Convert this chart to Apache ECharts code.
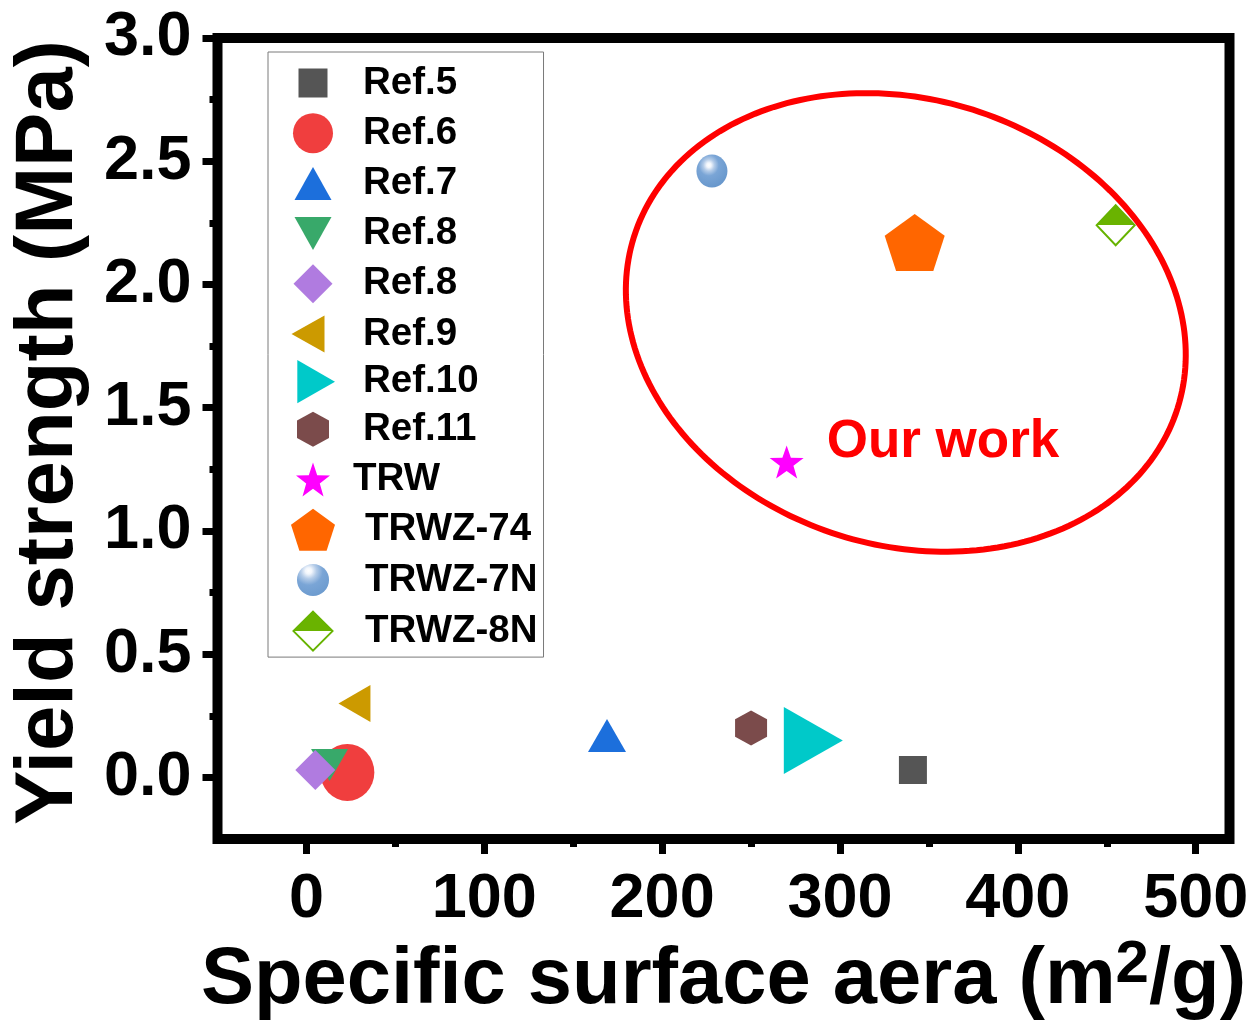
<!DOCTYPE html>
<html>
<head>
<meta charset="utf-8">
<script src="https://cdn.jsdelivr.net/npm/echarts@6/dist/echarts.min.js"></script>
<style>
  html, body { margin: 0; padding: 0; background: #ffffff; }
  #chart { width: 1255px; height: 1024px; }
</style>
</head>
<body>
<div id="chart"></div>
<script>
const FONT = '"Liberation Sans", Arial, Helvetica, sans-serif';

// Specific surface area (m2/g) and yield strength (MPa) of each material
const seriesNames   = ['Ref.5', 'Ref.6', 'Ref.7', 'Ref.8', 'Ref.8 ', 'Ref.9', 'Ref.10', 'Ref.11', 'TRW', 'TRWZ-74', 'TRWZ-7N', 'TRWZ-8N'];
const surfaceArea   = [341, 23, 169, 13, 5, 27, 285, 250, 270, 342, 228, 455];
const yieldStrength = [0.03, 0.02, 0.17, 0.05, 0.03, 0.30, 0.15, 0.20, 1.28, 2.17, 2.46, 2.24];

// axis ticks
const xMajorTicks = [0, 100, 200, 300, 400, 500];
const xMinorTicks = [50, 150, 250, 350, 450];
const yMajorTicks = [0, 0.5, 1.0, 1.5, 2.0, 2.5, 3.0];
const yMinorTicks = [0.25, 0.75, 1.25, 1.75, 2.25, 2.75];

// highlighted group of this work: ellipse centre and caption anchor (data units)
const groupCenter  = [337, 1.846];
const groupLabelAt = [292.5, 1.360];
const groupLabel   = 'Our work';

// ---- marker geometry -------------------------------------------------
function normalize(pts) {
  const xs = pts.map(p => p[0]), ys = pts.map(p => p[1]);
  const x0 = Math.min(...xs), x1 = Math.max(...xs), y0 = Math.min(...ys), y1 = Math.max(...ys);
  return pts.map(([x, y]) => [(x - x0) / (x1 - x0) * 2 - 1, (y - y0) / (y1 - y0) * 2 - 1]);
}
function radial(n, radii) {
  const pts = [];
  for (let k = 0; k < n; k++) {
    const ang = (-90 + k * 360 / n) * Math.PI / 180;
    const r = radii[k % radii.length];
    pts.push([r * Math.cos(ang), r * Math.sin(ang)]);
  }
  return normalize(pts);
}
const SHAPES = {
  square:   [[-1, -1], [1, -1], [1, 1], [-1, 1]],
  up:       [[0, -1], [1, 1], [-1, 1]],
  down:     [[-1, -1], [1, -1], [0, 1]],
  diamond:  [[0, -1], [1, 0], [0, 1], [-1, 0]],
  left:     [[1, -1], [1, 1], [-1, 0]],
  right:    [[-1, -1], [1, 0], [-1, 1]],
  hexagon:  [[0, -1], [1, -0.5], [1, 0.5], [0, 1], [-1, 0.5], [-1, -0.5]],
  star:     radial(10, [1, 0.4]),
  pentagon: radial(5, [1])
};
function polyD(pts, cx, cy, w, h) {
  return 'M' + pts.map(([x, y]) => (cx + x * w / 2).toFixed(2) + ',' + (cy + y * h / 2).toFixed(2)).join('L') + 'Z';
}
function ellipseD(cx, cy, w, h) {
  const rx = w / 2, ry = h / 2;
  return 'M' + (cx - rx) + ',' + cy + 'A' + rx + ',' + ry + ',0,1,0,' + (cx + rx) + ',' + cy +
         'A' + rx + ',' + ry + ',0,1,0,' + (cx - rx) + ',' + cy + 'Z';
}

const sphereFill = {
  type: 'radial', x: 0.4, y: 0.32, r: 0.72,
  colorStops: [
    { offset: 0, color: '#ffffff' },
    { offset: 0.1, color: '#f2f6fc' },
    { offset: 0.25, color: '#b3cbe8' },
    { offset: 0.45, color: '#7aa5d6' },
    { offset: 1, color: '#6696cb' }
  ]
};
const halfFill = {
  type: 'linear', x: 0, y: 0, x2: 0, y2: 1,
  colorStops: [
    { offset: 0, color: '#6ab300' },
    { offset: 0.5, color: '#6ab300' },
    { offset: 0.5, color: '#ffffff' },
    { offset: 1, color: '#ffffff' }
  ]
};

// marker look per series: shape, plotted size [w,h], legend icon [w,h,dx], colours, legend text indent
const markStyles = [
  { shape: 'square',   size: [28, 28], icon: [29, 29, 0],  color: '#555555', indent: 23 },
  { shape: 'circle',   size: [54, 57], icon: [40, 40, 0],  color: '#f03e3e', indent: 23 },
  { shape: 'up',       size: [38, 33], icon: [37, 33, 0],  color: '#1c6fdc', indent: 23 },
  { shape: 'down',     size: [37, 32], icon: [37, 33, 0],  color: '#38a96a', indent: 23 },
  { shape: 'diamond',  size: [40, 40], icon: [39, 39, 0],  color: '#b07be0', indent: 23 },
  { shape: 'left',     size: [32, 37], icon: [33, 37, -5], color: '#cc9a00', indent: 23 },
  { shape: 'right',    size: [59, 67], icon: [42, 48, 6],  color: '#00c9c9', indent: 23 },
  { shape: 'hexagon',  size: [32, 35], icon: [32, 35, 0],  color: '#7b4b4b', indent: 23 },
  { shape: 'star',     size: [34, 33], icon: [34, 34, 0],  color: '#ff00ff', indent: 13 },
  { shape: 'pentagon', size: [60, 57], icon: [44, 42, 0],  color: '#ff6600', indent: 25 },
  { shape: 'circle',   size: [31, 33], icon: [32, 32, 0],  color: sphereFill, indent: 25 },
  { shape: 'diamond',  size: [38, 40], icon: [39, 39, 0],  color: halfFill, border: '#66b300', borderWidth: 2, indent: 25 }
];

const ICON_W = 44, ICON_H = 50;
function markerSymbol(st) {
  return st.shape === 'circle' ? 'circle' : 'path://' + polyD(SHAPES[st.shape], 0, 0, 2, 2);
}
function legendIcon(st) {
  const [w, h, dx] = st.icon;
  const cx = ICON_W / 2 + dx, cy = ICON_H / 2;
  const body = st.shape === 'circle' ? ellipseD(cx, cy, w, h) : polyD(SHAPES[st.shape], cx, cy, w, h);
  return 'path://M0,0M' + ICON_W + ',' + ICON_H + body;
}

const labelStyle = { fontSize: 63, fontWeight: 'bold', fontFamily: FONT, color: '#000' };
const tickStyle = { color: '#000', width: 7 };
const hiddenLine = { show: false, onZero: false };

const scatterSeries = seriesNames.map((name, i) => {
  const st = markStyles[i];
  return {
    type: 'scatter',
    name: name,
    data: [[surfaceArea[i], yieldStrength[i]]],
    symbol: markerSymbol(st),
    symbolSize: st.size,
    itemStyle: {
      color: st.color,
      borderColor: st.border || st.color,
      borderWidth: st.borderWidth || 0,
      opacity: 1
    },
    emphasis: { disabled: true }
  };
});

const groupSeries = {
  type: 'custom',
  name: groupLabel,
  silent: true,
  data: [groupCenter],
  renderItem: function (params, api) {
    const c = api.coord([api.value(0), api.value(1)]);
    const a = 285, b = 223, th = 17.5 * Math.PI / 180;
    const pts = [];
    for (let k = 0; k <= 240; k++) {
      const t = k / 240 * Math.PI * 2;
      const ex = a * Math.cos(t), ey = b * Math.sin(t);
      pts.push([c[0] + ex * Math.cos(th) - ey * Math.sin(th), c[1] + ex * Math.sin(th) + ey * Math.cos(th)]);
    }
    const lp = api.coord(groupLabelAt);
    return {
      type: 'group',
      children: [
        { type: 'polygon', shape: { points: pts }, style: { fill: 'none', stroke: '#ff0000', lineWidth: 6 } },
        { type: 'text', x: lp[0], y: lp[1],
          style: { text: groupLabel, fill: '#ff0000', font: 'bold 53px ' + FONT,
                   align: 'left', verticalAlign: 'middle', textAlign: 'left', textVerticalAlign: 'middle' } }
      ]
    };
  }
};

const chart = echarts.init(document.getElementById('chart'), null, { renderer: 'canvas' });
chart.setOption({
  animation: false,
  backgroundColor: '#ffffff',
  grid: {
    left: 217.5, right: 25.5, top: 38, bottom: 185,
    containLabel: false, outerBoundsMode: 'none',
    show: true, borderColor: '#000', borderWidth: 10, backgroundColor: 'transparent'
  },
  legend: {
    orient: 'vertical',
    left: 268, top: 52,
    itemWidth: ICON_W, itemHeight: ICON_H, itemGap: 0.2,
    padding: [6, 6, 0, 22],
    borderColor: '#7a7a7a', borderWidth: 1,
    selectedMode: false,
    symbolRotate: 0,
    textStyle: { fontSize: 38.5, fontWeight: 'bold', fontFamily: FONT, color: '#000' },
    data: seriesNames.map((name, i) => {
      const st = markStyles[i];
      const item = { name: name, icon: legendIcon(st), textStyle: { padding: [0, 0, 0, st.indent] } };
      if (st.border) item.itemStyle = { borderColor: st.border, borderWidth: st.borderWidth };
      return item;
    })
  },
  xAxis: [
    {
      type: 'value', min: -50, max: 519, position: 'bottom',
      axisLine: hiddenLine, splitLine: { show: false },
      axisTick: { show: true, inside: false, length: 15, lineStyle: tickStyle, customValues: xMajorTicks },
      axisLabel: Object.assign({ margin: 29, customValues: xMajorTicks }, labelStyle),
      name: 'Specific surface aera (m{sup|2}/g)',
      nameLocation: 'middle', nameGap: 87,
      nameTextStyle: {
        fontSize: 79.5, fontWeight: 'bold', fontFamily: FONT, color: '#000', lineHeight: 90,
        rich: { sup: { fontSize: 60, fontWeight: 'bold', fontFamily: FONT, color: '#000', verticalAlign: 'top', lineHeight: 74 } }
      }
    },
    {
      type: 'value', min: -50, max: 519, position: 'bottom',
      axisLine: hiddenLine, splitLine: { show: false },
      axisTick: { show: true, inside: false, length: 8, lineStyle: tickStyle, customValues: xMinorTicks },
      axisLabel: { show: false }
    }
  ],
  yAxis: [
    {
      type: 'value', min: -0.25, max: 3.0, position: 'left',
      axisLine: hiddenLine, splitLine: { show: false },
      axisTick: { show: true, inside: false, length: 15, lineStyle: tickStyle, customValues: yMajorTicks },
      axisLabel: Object.assign({ margin: 26, customValues: yMajorTicks, formatter: v => v.toFixed(1) }, labelStyle),
      name: 'Yield strength (MPa)',
      nameLocation: 'middle', nameGap: 128,
      nameTextStyle: { fontSize: 81.5, fontWeight: 'bold', fontFamily: FONT, color: '#000', lineHeight: 80, padding: [0, 0, 0, 12] }
    },
    {
      type: 'value', min: -0.25, max: 3.0, position: 'left',
      axisLine: hiddenLine, splitLine: { show: false },
      axisTick: { show: true, inside: false, length: 8, lineStyle: tickStyle, customValues: yMinorTicks },
      axisLabel: { show: false }
    }
  ],
  series: scatterSeries.concat([groupSeries])
});
</script>
</body>
</html>
